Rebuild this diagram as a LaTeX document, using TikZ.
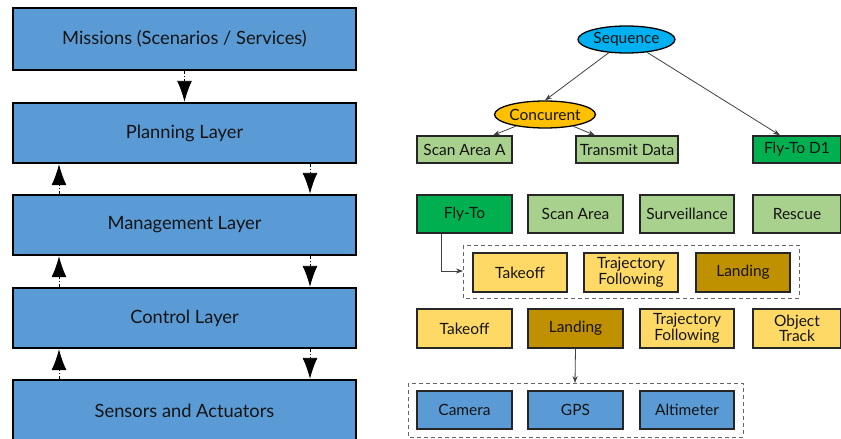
\documentclass[tikz,border=0pt]{standalone}
\usepackage{fontspec}
\setmainfont{Lato}
\usetikzlibrary{arrows.meta,shapes.geometric}
\definecolor{layerblue}{HTML}{5B9BD5}
\definecolor{seqblue}{HTML}{00B0F0}
\definecolor{concorange}{HTML}{FFC000}
\definecolor{taskgreen}{HTML}{A9D18E}
\definecolor{activegreen}{HTML}{00B050}
\definecolor{skillyellow}{HTML}{FFD966}
\definecolor{skillgold}{HTML}{BF9000}
\definecolor{inktext}{HTML}{141414}
\tikzset{
  layer/.style={draw=black, line width=2.4pt, fill=layerblue, minimum width=343pt,
    inner sep=0pt, text=inktext, font=\fontsize{18.3}{20}\selectfont},
  layerarrow/.style={line width=0.9pt, dash pattern=on 3pt off 2pt on 1pt off 2pt,
    -{Latex[length=21pt,width=15pt]}},
  ctrl/.style={ellipse, draw=black, line width=1.3pt, minimum width=97pt,
    minimum height=27pt, inner sep=0pt, text=inktext, font=\fontsize{15.5}{15.5}\selectfont},
  block/.style={draw=black!85, line width=1.4pt, inner sep=0pt, align=center,
    text=inktext, font=\fontsize{15.5}{15.5}\selectfont},
  treearrow/.style={draw=black!75, line width=0.8pt, -{Stealth[length=7pt,width=5pt]}},
  group/.style={draw=black!60, line width=0.9pt, dash pattern=on 4pt off 3pt}
}
\begin{document}
\begin{tikzpicture}[x=1pt,y=-1pt]
\useasboundingbox (0,0) rectangle (841,439);
\clip (0,0) rectangle (841,439);

% ---- layered architecture ----
\node[layer, minimum height=62pt] (mis) at (184.5,39) {Missions (Scenarios / Services)};
\node[layer, minimum height=60pt] (pla) at (184.5,133) {Planning Layer};
\node[layer, minimum height=60pt] (man) at (184.5,225) {Management Layer};
\node[layer, minimum height=60pt] (con) at (184.5,318) {Control Layer};
\node[layer, minimum height=62pt] (sen) at (184.5,411) {Sensors and Actuators};

\draw[layerarrow] (mis.south) -- (pla.north);
\foreach \up/\lo in {pla/man, man/con, con/sen}{
  \draw[layerarrow] (\lo.north -| 59,0) -- (\up.south -| 59,0);
  \draw[layerarrow] (\up.south -| 310,0) -- (\lo.north -| 310,0);
}

% ---- mission tree ----
\node[ctrl, fill=seqblue] (seq) at (626.5,39.5) {Sequence};
\node[ctrl, fill=concorange] (conc) at (545,114.5) {Concurent};
\node[block, fill=taskgreen, minimum width=95pt, minimum height=27pt] (scana) at (464.5,149.5) {Scan Area A};
\node[block, fill=taskgreen, minimum width=102pt, minimum height=27pt] (trans) at (627,149.5) {Transmit Data};
\node[block, fill=activegreen, minimum width=88pt, minimum height=27pt] (flyd) at (797,149.5) {Fly-To D1};

\draw[treearrow] (seq) -- (conc.north);
\draw[treearrow] (seq) -- (flyd.north -| 780,0);
\draw[treearrow] (conc) -- (scana.north -| 493,0);
\draw[treearrow] (conc) -- (trans.north -| 595,0);

% ---- task library ----
\node[block, fill=activegreen, minimum width=95pt, minimum height=38pt] (fly) at (464.5,214) {Fly-To};
\node[block, fill=taskgreen, minimum width=95pt, minimum height=38pt] (scan) at (575.5,214) {Scan Area};
\node[block, fill=taskgreen, minimum width=94pt, minimum height=38pt] (surv) at (687,214) {Surveillance};
\node[block, fill=taskgreen, minimum width=88pt, minimum height=38pt] (resc) at (797,214) {Rescue};

% ---- skills used by Fly-To ----
\node[block, fill=skillyellow, minimum width=94pt, minimum height=39pt] (tk1) at (520,272.5) {Takeoff};
\node[block, fill=skillyellow, minimum width=94pt, minimum height=39pt] (tf1) at (631,272.5) {Trajectory\\Following};
\node[block, fill=skillgold, minimum width=94pt, minimum height=39pt] (ld1) at (743,272.5) {Landing};
\draw[group] (463,245) rectangle (799,298);
\coordinate (grp1) at (463,271);
\draw[treearrow] (fly.south -| 441,0) |- (grp1);

% ---- skill library ----
\node[block, fill=skillyellow, minimum width=95pt, minimum height=39pt] (tk) at (464.5,328.5) {Takeoff};
\node[block, fill=skillgold, minimum width=95pt, minimum height=39pt] (ld) at (575.5,328.5) {Landing};
\node[block, fill=skillyellow, minimum width=94pt, minimum height=39pt] (tf) at (687,328.5) {Trajectory\\Following};
\node[block, fill=skillyellow, minimum width=88pt, minimum height=39pt] (obj) at (797,328.5) {Object\\Track};

% ---- devices used by Landing ----
\node[block, fill=layerblue, minimum width=95pt, minimum height=38pt] (cam) at (464.5,410) {Camera};
\node[block, fill=layerblue, minimum width=95pt, minimum height=38pt] (gps) at (575.5,410) {GPS};
\node[block, fill=layerblue, minimum width=94pt, minimum height=38pt] (alt) at (687,410) {Altimeter};
\draw[group] (408,383) rectangle (743,437);
\coordinate (grp2) at (575,383);
\draw[treearrow] (ld.south) -- (grp2);
\end{tikzpicture}
\end{document}
